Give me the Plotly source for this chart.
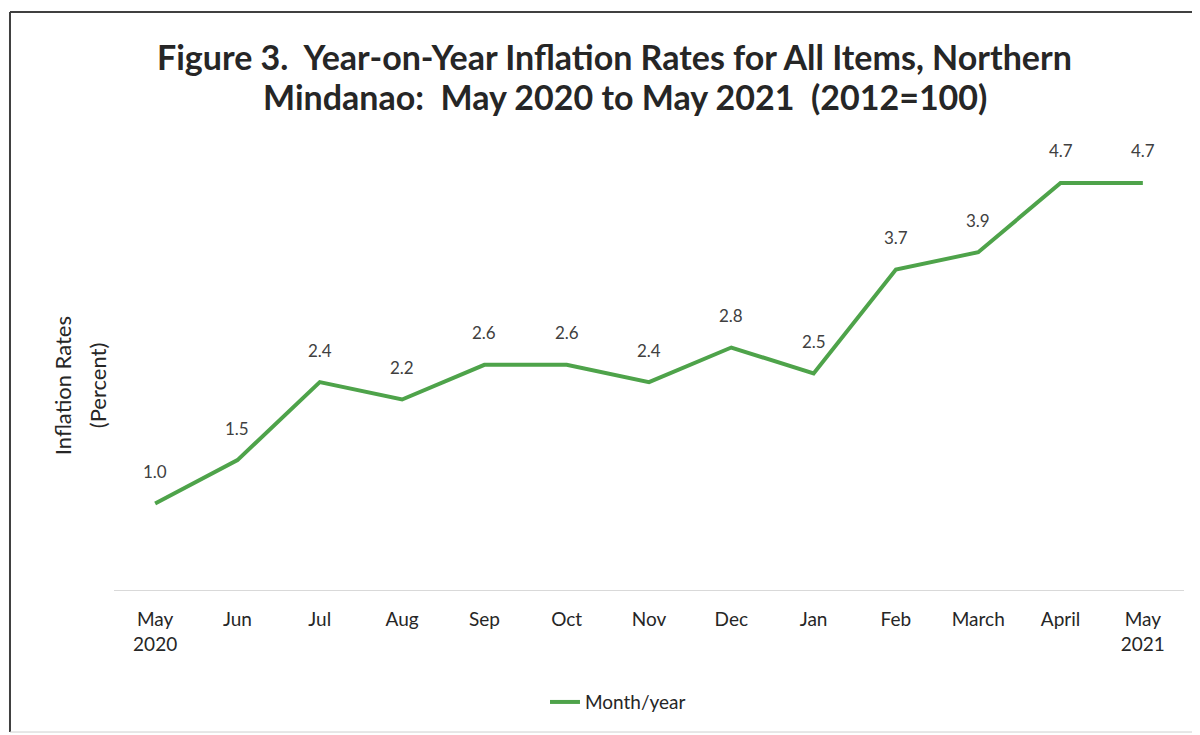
import plotly.graph_objects as go

months = ["May<br>2020", "Jun", "Jul", "Aug", "Sep", "Oct", "Nov", "Dec", "Jan", "Feb", "March", "April", "May<br>2021"]
rates = [1.0, 1.5, 2.4, 2.2, 2.6, 2.6, 2.4, 2.8, 2.5, 3.7, 3.9, 4.7, 4.7]
series_name = "Month/year"
title_lines = [
    "Figure 3.  Year-on-Year Inflation Rates for All Items, Northern",
    "Mindanao:  May 2020 to May 2021  (2012=100)",
]
ytitle_lines = ["Inflation Rates", "(Percent)"]

FONT = "Lato"
GREEN = "#4ea34a"
DARK = "#262626"

fig = go.Figure()
fig.add_trace(go.Scatter(
    x=months, y=rates, mode="lines", name=series_name,
    line=dict(color=GREEN, width=4),
    cliponaxis=False,
))

annotations = [
    dict(x=m, y=v, xref="x", yref="y", text=f"{v:.1f}", showarrow=False,
         yanchor="middle", yshift=32,
         font=dict(family=FONT, size=17, color="#404040"))
    for m, v in zip(months, rates)
]
# title lines
for txt, yy, xx in zip(title_lines, [1.231, 1.14], [0.468, 0.4775]):
    annotations.append(dict(
        x=xx, y=yy, xref="paper", yref="paper", text=f"<b>{txt}</b>",
        showarrow=False, xanchor="center", yanchor="middle",
        font=dict(family=FONT, size=34, color=DARK),
    ))
# y-axis title lines
for txt, xx in zip(ytitle_lines, [-0.0486, -0.0159]):
    annotations.append(dict(
        x=xx, y=0.473, xref="paper", yref="paper", text=txt,
        textangle=-90, showarrow=False, xanchor="center", yanchor="middle",
        font=dict(family=FONT, size=22, color=DARK),
    ))

border = dict(xref="paper", yref="paper", type="line", layer="below")
fig.update_layout(
    width=1200, height=735,
    margin=dict(l=106, r=24, t=149, b=153),
    paper_bgcolor="white", plot_bgcolor="white",
    xaxis=dict(
        type="category", range=[-0.5, len(months) - 0.5],
        showgrid=False, zeroline=False, automargin=False,
        showline=True, linecolor="#d9d9d9", linewidth=1,
        ticks="", ticklabelstandoff=12,
        tickfont=dict(family=FONT, size=19, color=DARK),
    ),
    yaxis=dict(
        range=[0, 5], showgrid=False, zeroline=False, showticklabels=False, automargin=False,
    ),
    annotations=annotations,
    showlegend=True,
    legend=dict(
        orientation="h", x=0.471, xanchor="center", y=-0.215, yanchor="top",
        font=dict(family=FONT, size=19, color=DARK),
    ),
    shapes=[
        dict(**border, x0=-0.0972, x1=1.05, y0=1.335, y1=1.335, line=dict(color="#404040", width=2)),
        dict(**border, x0=-0.0972, x1=-0.0972, y0=-0.328, y1=1.335, line=dict(color="#404040", width=2)),
        dict(**border, x0=-0.0972, x1=1.05, y0=-0.328, y1=-0.328, line=dict(color="#cfcfcf", width=1)),
    ],
)

fig.write_html("out.html")
